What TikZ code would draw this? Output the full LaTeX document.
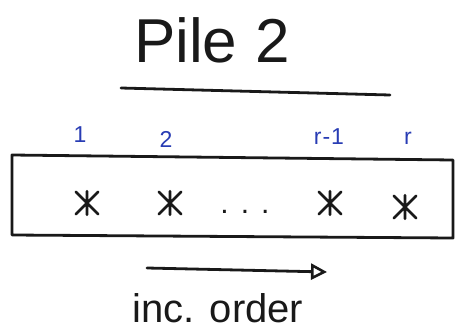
\documentclass[tikz,border=0pt]{standalone}
\usepackage{fontspec}
\setmainfont{Liberation Sans}
\usetikzlibrary{arrows.meta,calc}
\definecolor{penblue}{RGB}{40,60,180}
\definecolor{ink}{RGB}{25,25,25}
\tikzset{
  titletext/.style={font=\fontsize{62}{62}\selectfont, text=ink, inner sep=0pt},
  lab/.style={font=\fontsize{23}{23}\selectfont, text=penblue, inner sep=0pt},
  caption/.style={font=\fontsize{40}{40}\selectfont, text=ink, inner sep=0pt},
  pen/.style={draw=ink, line width=2.8pt, line cap=round, line join=round},
  starmark/.style={minimum size=28pt, inner sep=0pt,
    path picture={
      \draw[ink, line width=2.6pt, line cap=round]
        ($(path picture bounding box.north)!0.08!(path picture bounding box.south)$) -- ($(path picture bounding box.north)!0.92!(path picture bounding box.south)$)
        ($(path picture bounding box.north west)!0.1!(path picture bounding box.south east)$) -- ($(path picture bounding box.north west)!0.9!(path picture bounding box.south east)$)
        ($(path picture bounding box.north east)!0.1!(path picture bounding box.south west)$) -- ($(path picture bounding box.north east)!0.9!(path picture bounding box.south west)$);
    }},
}
\begin{document}
\begin{tikzpicture}[x=1pt,y=-1pt]
\useasboundingbox[fill=white] (0,0) rectangle (456,335);
\node[titletext] (title) at (212,40) {Pile\hspace{18pt}2};
\coordinate (u1) at (121,88);
\coordinate (u2) at (390,95);
\draw[pen] (u1) -- (u2);
\coordinate (bnw) at (12,155);
\coordinate (bne) at (453,160);
\coordinate (bse) at (453,238);
\coordinate (bsw) at (12,235);
\draw[pen] (bnw) -- (bne) -- (bse) -- (bsw) -- cycle;
\node[lab] (l1) at (80,135) {1};
\node[lab] (l2) at (166,139) {2};
\node[lab] (l3) at (329,137) {r\hspace{1pt}-\hspace{1pt}1};
\node[lab] (l4) at (408,138) {r};
\node[starmark] (s1) at (87,203) {};
\node[starmark] (s2) at (170,203) {};
\node[starmark] (s3) at (330,203) {};
\node[starmark] (s4) at (405,207) {};
\node[caption, font=\fontsize{30}{30}\selectfont] (dots) at (245,212) {.\hspace{12pt}.\hspace{12pt}.};
\coordinate (a1) at (147,268);
\coordinate (a2) at (327,272);
\draw[pen, -{Triangle[open, length=16pt, width=16pt, line width=2.6pt]}] (a1) -- (a2);
\node[caption] (cap) at (218,308) {inc. order};
\end{tikzpicture}
\end{document}
